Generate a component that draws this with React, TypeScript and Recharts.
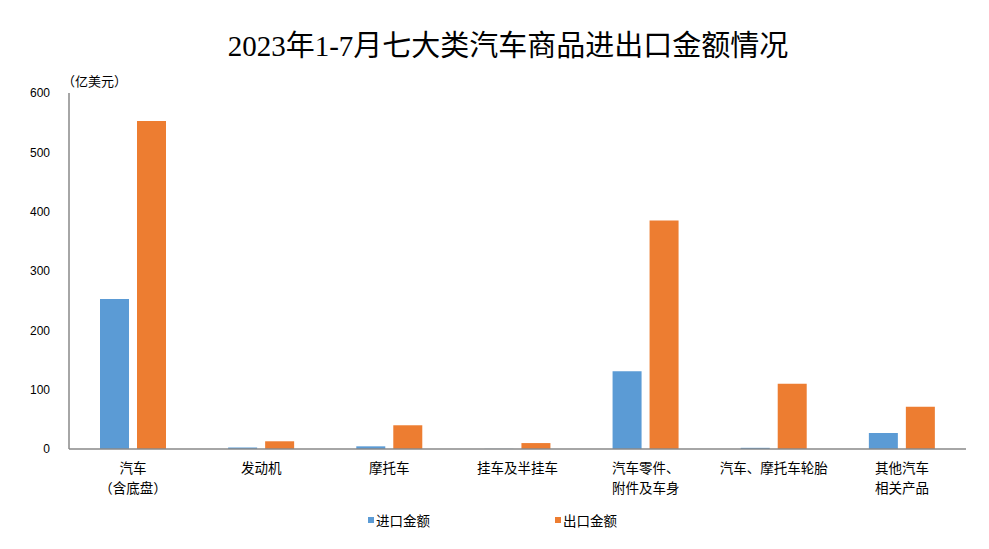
import React from "react";
import { BarChart, Bar, XAxis, YAxis } from "recharts";

// 类别（\n 表示换行）
const CATEGORIES = [
  "汽车\n（含底盘）",
  "发动机",
  "摩托车",
  "挂车及半挂车",
  "汽车零件、\n附件及车身",
  "汽车、摩托车轮胎",
  "其他汽车\n相关产品",
];
// 单位：亿美元
const IMPORT_VALUES = [253, 2.5, 4.5, 0.3, 131, 2, 27];
const EXPORT_VALUES = [553, 13, 40, 10, 385, 110, 71];
const Y_TICKS = [0, 100, 200, 300, 400, 500, 600];
const SERIES_NAMES = ["进口金额", "出口金额"];

const BLUE = "#5B9BD5";
const ORANGE = "#ED7D31";
const AXIS = "#898989";
const FONT = '"Noto Sans CJK SC", "Noto Sans", sans-serif';

const data = CATEGORIES.map((name, i) => ({
  name,
  imp: IMPORT_VALUES[i],
  exp: EXPORT_VALUES[i],
}));

function CategoryTick(props: any) {
  const { x, y, payload } = props;
  const lines = String(payload.value).split("\n");
  return (
    <g transform={`translate(${x},${y})`}>
      {lines.map((l, i) => (
        <text
          key={i}
          x={0}
          y={16 + i * 20}
          textAnchor="middle"
          fontSize={13.5}
          fontFamily={FONT}
          fill="#000"
        >
          {l}
        </text>
      ))}
    </g>
  );
}

export default function App() {
  const legend = [
    { label: SERIES_NAMES[0], color: BLUE, left: 368 },
    { label: SERIES_NAMES[1], color: ORANGE, left: 555 },
  ];
  return (
    <div style={{ position: "absolute", left: 0, top: 0, width: 989, height: 549, background: "#fff" }}>
      <div
        style={{
          position: "absolute",
          top: 22,
          left: 0,
          width: 1016,
          textAlign: "center",
          fontFamily: '"Liberation Serif", "Noto Sans CJK SC", serif',
          fontSize: 29,
          color: "#000",
        }}
      >
        2023年1-7月七大类汽车商品进出口金额情况
      </div>
      <div style={{ position: "absolute", left: 62, top: 71, fontFamily: FONT, fontSize: 13 }}>（亿美元）</div>
      {legend.map((it) => (
        <div
          key={it.label}
          style={{
            position: "absolute",
            left: it.left,
            top: 510,
            display: "flex",
            alignItems: "center",
            fontFamily: FONT,
            fontSize: 13.5,
          }}
        >
          <span style={{ display: "inline-block", width: 6, height: 6, background: it.color, marginRight: 2 }} />
          <span>{it.label}</span>
        </div>
      ))}
      <BarChart
        width={989}
        height={549}
        data={data}
        margin={{ top: 93, right: 23, bottom: 70, left: 0 }}
        barGap={8}
        barSize={29}
      >
        <XAxis
          dataKey="name"
          height={30}
          tick={<CategoryTick />}
          tickLine={false}
          interval={0}
          stroke={AXIS}
          strokeWidth={1.5}
        />
        <YAxis
          width={69}
          domain={[0, 600]}
          ticks={Y_TICKS}
          tickLine={false}
          tickMargin={13}
          stroke={AXIS}
          strokeWidth={1.5}
          tick={{ fill: "#000", fontSize: 12, fontFamily: '"Liberation Sans", sans-serif' }}
        />
        <Bar dataKey="imp" name={SERIES_NAMES[0]} fill={BLUE} isAnimationActive={false} />
        <Bar dataKey="exp" name={SERIES_NAMES[1]} fill={ORANGE} isAnimationActive={false} />
      </BarChart>
    </div>
  );
}
